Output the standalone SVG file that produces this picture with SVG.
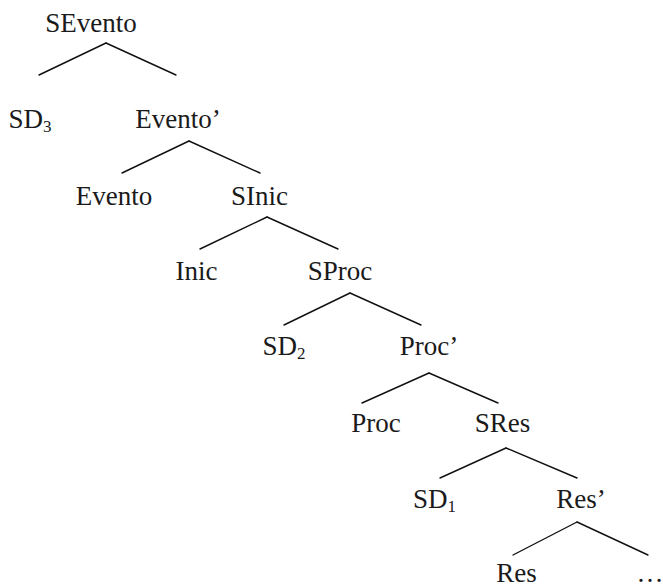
<svg xmlns="http://www.w3.org/2000/svg" width="663" height="587" viewBox="0 0 663 587">
<style>
text{font-family:'Liberation Serif','DejaVu Serif',serif;font-size:27px;fill:#1a1a1a;text-anchor:middle}
.sub{font-size:17px}
#edges line{stroke:#111;stroke-width:1.4;stroke-linecap:round}
</style>
<rect width="663" height="587" fill="#fff"/>
<g id="edges">
<line x1="106" y1="43" x2="39" y2="75"/><line x1="106" y1="43" x2="176" y2="75"/>
<line x1="189" y1="141" x2="122" y2="173"/><line x1="189" y1="141" x2="260" y2="173"/>
<line x1="267" y1="217" x2="200" y2="249"/><line x1="267" y1="217" x2="338" y2="249"/>
<line x1="350" y1="293" x2="284" y2="325"/><line x1="350" y1="293" x2="421" y2="325"/>
<line x1="429" y1="373" x2="362" y2="403"/><line x1="429" y1="373" x2="498" y2="403"/>
<line x1="506" y1="448" x2="440" y2="478"/><line x1="506" y1="448" x2="577" y2="478"/>
<line x1="577" y1="522" x2="513" y2="555"/><line x1="577" y1="522" x2="648" y2="555"/>
</g>
<g id="n-sevento"><text x="91" y="32">SEvento</text></g>
<g id="n-sd3"><text x="30" y="128">SD<tspan class="sub" dy="4">3</tspan></text></g>
<g id="n-eventobar"><text x="178" y="128">Evento’</text></g>
<g id="n-evento"><text x="114" y="205">Evento</text></g>
<g id="n-sinic"><text x="259.5" y="205">SInic</text></g>
<g id="n-inic"><text x="196.5" y="280">Inic</text></g>
<g id="n-sproc"><text x="340" y="280">SProc</text></g>
<g id="n-sd2"><text x="284" y="355">SD<tspan class="sub" dy="4">2</tspan></text></g>
<g id="n-procbar"><text x="429" y="355">Proc’</text></g>
<g id="n-proc"><text x="376" y="432">Proc</text></g>
<g id="n-sres"><text x="502.5" y="432">SRes</text></g>
<g id="n-sd1"><text x="434.5" y="508">SD<tspan class="sub" dy="4">1</tspan></text></g>
<g id="n-resbar"><text x="581" y="508">Res’</text></g>
<g id="n-res"><text x="516.5" y="582">Res</text></g>
<g id="n-dots"><text x="650" y="582">…</text></g>
</svg>
